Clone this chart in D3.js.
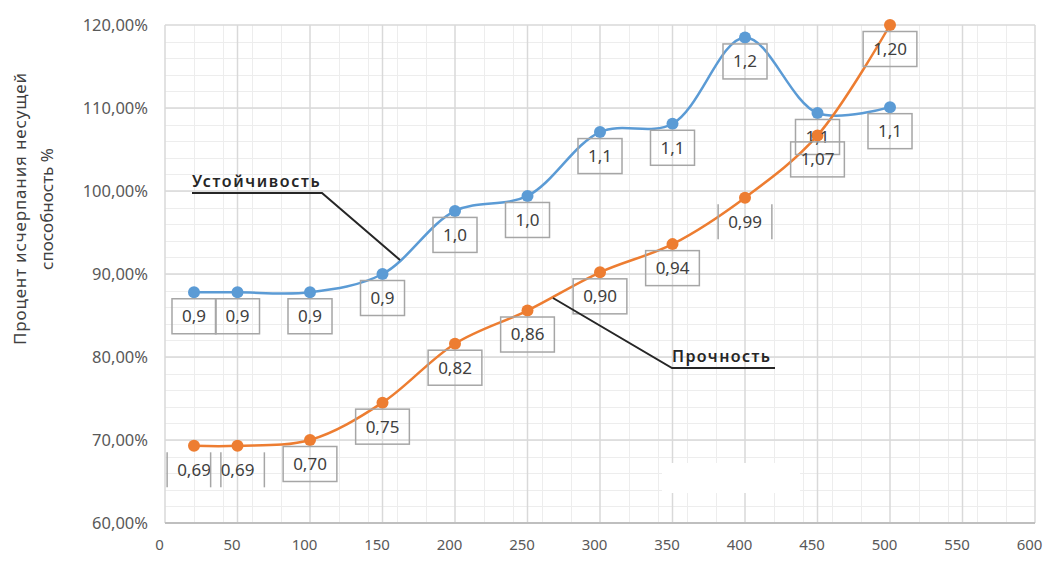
<!DOCTYPE html>
<html lang="ru">
<head>
<meta charset="utf-8" />
<title>Процент исчерпания несущей способности</title>
<style>
html, body {
	margin: 0;
	padding: 0;
	background: #fff;
}
svg {
	display: block;
	font-family: "Noto Sans", "Liberation Sans", sans-serif;
}
</style>
</head>
<body>
<svg width="1053" height="566"></svg>

<script src="https://cdn.jsdelivr.net/npm/d3@7/dist/d3.min.js"></script>
<script>
// данные с графика
var xValues = [20, 50, 100, 150, 200, 250, 300, 350, 400, 450, 500];
var stability = [0.878, 0.878, 0.878, 0.900, 0.976, 0.994, 1.071, 1.081, 1.185, 1.094, 1.101];
var strength = [0.693, 0.693, 0.700, 0.745, 0.816, 0.856, 0.902, 0.936, 0.992, 1.067, 1.200];
var stabilityLabels = ["0,9", "0,9", "0,9", "0,9", "1,0", "1,0", "1,1", "1,1", "1,2", "1,1", "1,1"];
var strengthLabels = ["0,69", "0,69", "0,70", "0,75", "0,82", "0,86", "0,90", "0,94", "0,99", "1,07", "1,20"];
var xTicks = [0, 50, 100, 150, 200, 250, 300, 350, 400, 450, 500, 550, 600];
var yTicks = [0.6, 0.7, 0.8, 0.9, 1.0, 1.1, 1.2];

var svg = d3.select('svg');

// границы области построения (top занят window.top, поэтому pTop)
var pLeft = 165, pRight = 1035, pTop = 25, pBottom = 523;
var x = d3.scaleLinear().domain([0, 600]).range([pLeft, pRight]);
var y = d3.scaleLinear().domain([0.6, 1.2]).range([pBottom, pTop]);

var grid = svg.append('g');

// мелкая сетка
grid.selectAll('.minorY')
	.data(d3.range(0.62, 1.2, 0.02))
	.enter().append('line')
	.attr('x1', pLeft).attr('x2', pRight)
	.attr('y1', function(d){ return Math.round(y(d)) + 0.5; })
	.attr('y2', function(d){ return Math.round(y(d)) + 0.5; })
	.attr('stroke', '#ededed').attr('stroke-width', 1);

grid.selectAll('.minorX')
	.data(d3.range(20, 600, 20).filter(function(d){ return d % 50 != 0; }))
	.enter().append('line')
	.attr('y1', pTop).attr('y2', pBottom)
	.attr('x1', function(d){ return Math.round(x(d)) + 0.5; })
	.attr('x2', function(d){ return Math.round(x(d)) + 0.5; })
	.attr('stroke', '#ededed').attr('stroke-width', 1);

// основная сетка
grid.selectAll('.majorY')
	.data(yTicks)
	.enter().append('line')
	.attr('x1', pLeft).attr('x2', pRight)
	.attr('y1', function(d){ return y(d); })
	.attr('y2', function(d){ return y(d); })
	.attr('stroke', '#d9d9d9').attr('stroke-width', 1.5);

grid.selectAll('.majorX')
	.data(xTicks)
	.enter().append('line')
	.attr('y1', pTop).attr('y2', pBottom)
	.attr('x1', function(d){ return x(d); })
	.attr('x2', function(d){ return x(d); })
	.attr('stroke', '#d9d9d9').attr('stroke-width', 1.5);

// пустое пятно на картинке
svg.append('rect')
	.attr('x', 662).attr('y', 463).attr('width', 138).attr('height', 30)
	.attr('fill', '#fff');

// ось X
svg.append('line')
	.attr('x1', pLeft).attr('x2', pRight)
	.attr('y1', pBottom).attr('y2', pBottom)
	.attr('stroke', '#bfbfbf').attr('stroke-width', 2);

var xAxis = d3.axisBottom(x).tickValues(xTicks).tickSize(0).tickPadding(16);
var gx = svg.append('g').attr('transform', 'translate(-6,' + pBottom + ')').call(xAxis);
gx.select('.domain').remove();
gx.selectAll('text')
	.attr('fill', '#595959')
	.style('font-size', '15px')
	.style('font-family', '"Noto Sans", sans-serif');

// ось Y
var yAxis = d3.axisLeft(y).tickValues(yTicks).tickSize(0).tickPadding(17)
	.tickFormat(function(d){ return d3.format('.2f')(d * 100).replace('.', ',') + '%'; });
var gy = svg.append('g').attr('transform', 'translate(' + pLeft + ',0)').call(yAxis);
gy.select('.domain').remove();
gy.selectAll('text')
	.attr('fill', '#595959')
	.style('font-size', '16.5px')
	.style('font-family', '"Noto Sans", sans-serif');

// подпись оси Y
var title = svg.append('text')
	.attr('transform', 'translate(0,209) rotate(-90)')
	.attr('text-anchor', 'middle')
	.attr('fill', '#404040')
	.style('font-size', '17px');
title.append('tspan').attr('x', 0).attr('y', 26).attr('textLength', 272).text('Процент исчерпания несущей');
title.append('tspan').attr('x', 0).attr('y', 53).text('способность %');

// линии
var line = d3.line()
	.x(function(d){ return x(d[0]); })
	.y(function(d){ return y(d[1]); })
	.curve(d3.curveCatmullRom.alpha(0.5));

function drawSeries(values, color) {
	var pts = xValues.map(function(v, i){ return [v, values[i]]; });
	svg.append('path')
		.datum(pts)
		.attr('d', line)
		.attr('fill', 'none')
		.attr('stroke', color)
		.attr('stroke-width', 2.5);
	svg.append('g').selectAll('circle')
		.data(pts)
		.enter().append('circle')
		.attr('cx', function(d){ return x(d[0]); })
		.attr('cy', function(d){ return y(d[1]); })
		.attr('r', 6)
		.attr('fill', color);
}

drawSeries(stability, '#5b9bd5');
drawSeries(strength, '#ed7d31');

// подписи данных
function drawLabels(values, labels, sidesOnly) {
	var g = svg.append('g');
	values.forEach(function(v, i){
		var cx = x(xValues[i]);
		var cy = y(v) + 24;
		var t = g.append('text')
			.attr('x', cx).attr('y', cy)
			.attr('text-anchor', 'middle')
			.attr('dy', '0.35em')
			.attr('fill', '#404040')
			.style('font-size', '17px')
			.text(labels[i]);
		var w = t.node().getComputedTextLength() + 20;
		var h = 35;
		if (sidesOnly.indexOf(i) >= 0) {
			[cx - w / 2, cx + w / 2].forEach(function(bx){
				g.append('line')
					.attr('x1', bx).attr('x2', bx)
					.attr('y1', cy - h / 2).attr('y2', cy + h / 2)
					.attr('stroke', '#a6a6a6').attr('stroke-width', 1.5);
			});
		} else {
			g.insert('rect', 'text')
				.attr('x', cx - w / 2).attr('y', cy - h / 2)
				.attr('width', w).attr('height', h)
				.attr('fill', 'none')
				.attr('stroke', '#a6a6a6').attr('stroke-width', 1.5);
		}
	});
}

drawLabels(stability, stabilityLabels, []);
drawLabels(strength, strengthLabels, [0, 1, 8]);

// выноски
svg.append('text')
	.attr('x', 192).attr('y', 187)
	.attr('fill', '#262626')
	.style('font-size', '16px')
	.style('font-weight', '600')
	.style('letter-spacing', '0.4px')
	.attr('textLength', 128)
	.text('Устойчивость');
svg.append('polyline')
	.attr('points', [[192, 193], [322, 193], [400, 260]].join(' '))
	.attr('fill', 'none')
	.attr('stroke', '#262626')
	.attr('stroke-width', 2);

svg.append('text')
	.attr('x', 672).attr('y', 362)
	.attr('fill', '#262626')
	.style('font-size', '16px')
	.style('font-weight', '600')
	.attr('textLength', 98)
	.text('Прочность');
svg.append('polyline')
	.attr('points', [[775, 368], [672, 368], [553, 298]].join(' '))
	.attr('fill', 'none')
	.attr('stroke', '#262626')
	.attr('stroke-width', 2);
</script>
</body>
</html>
